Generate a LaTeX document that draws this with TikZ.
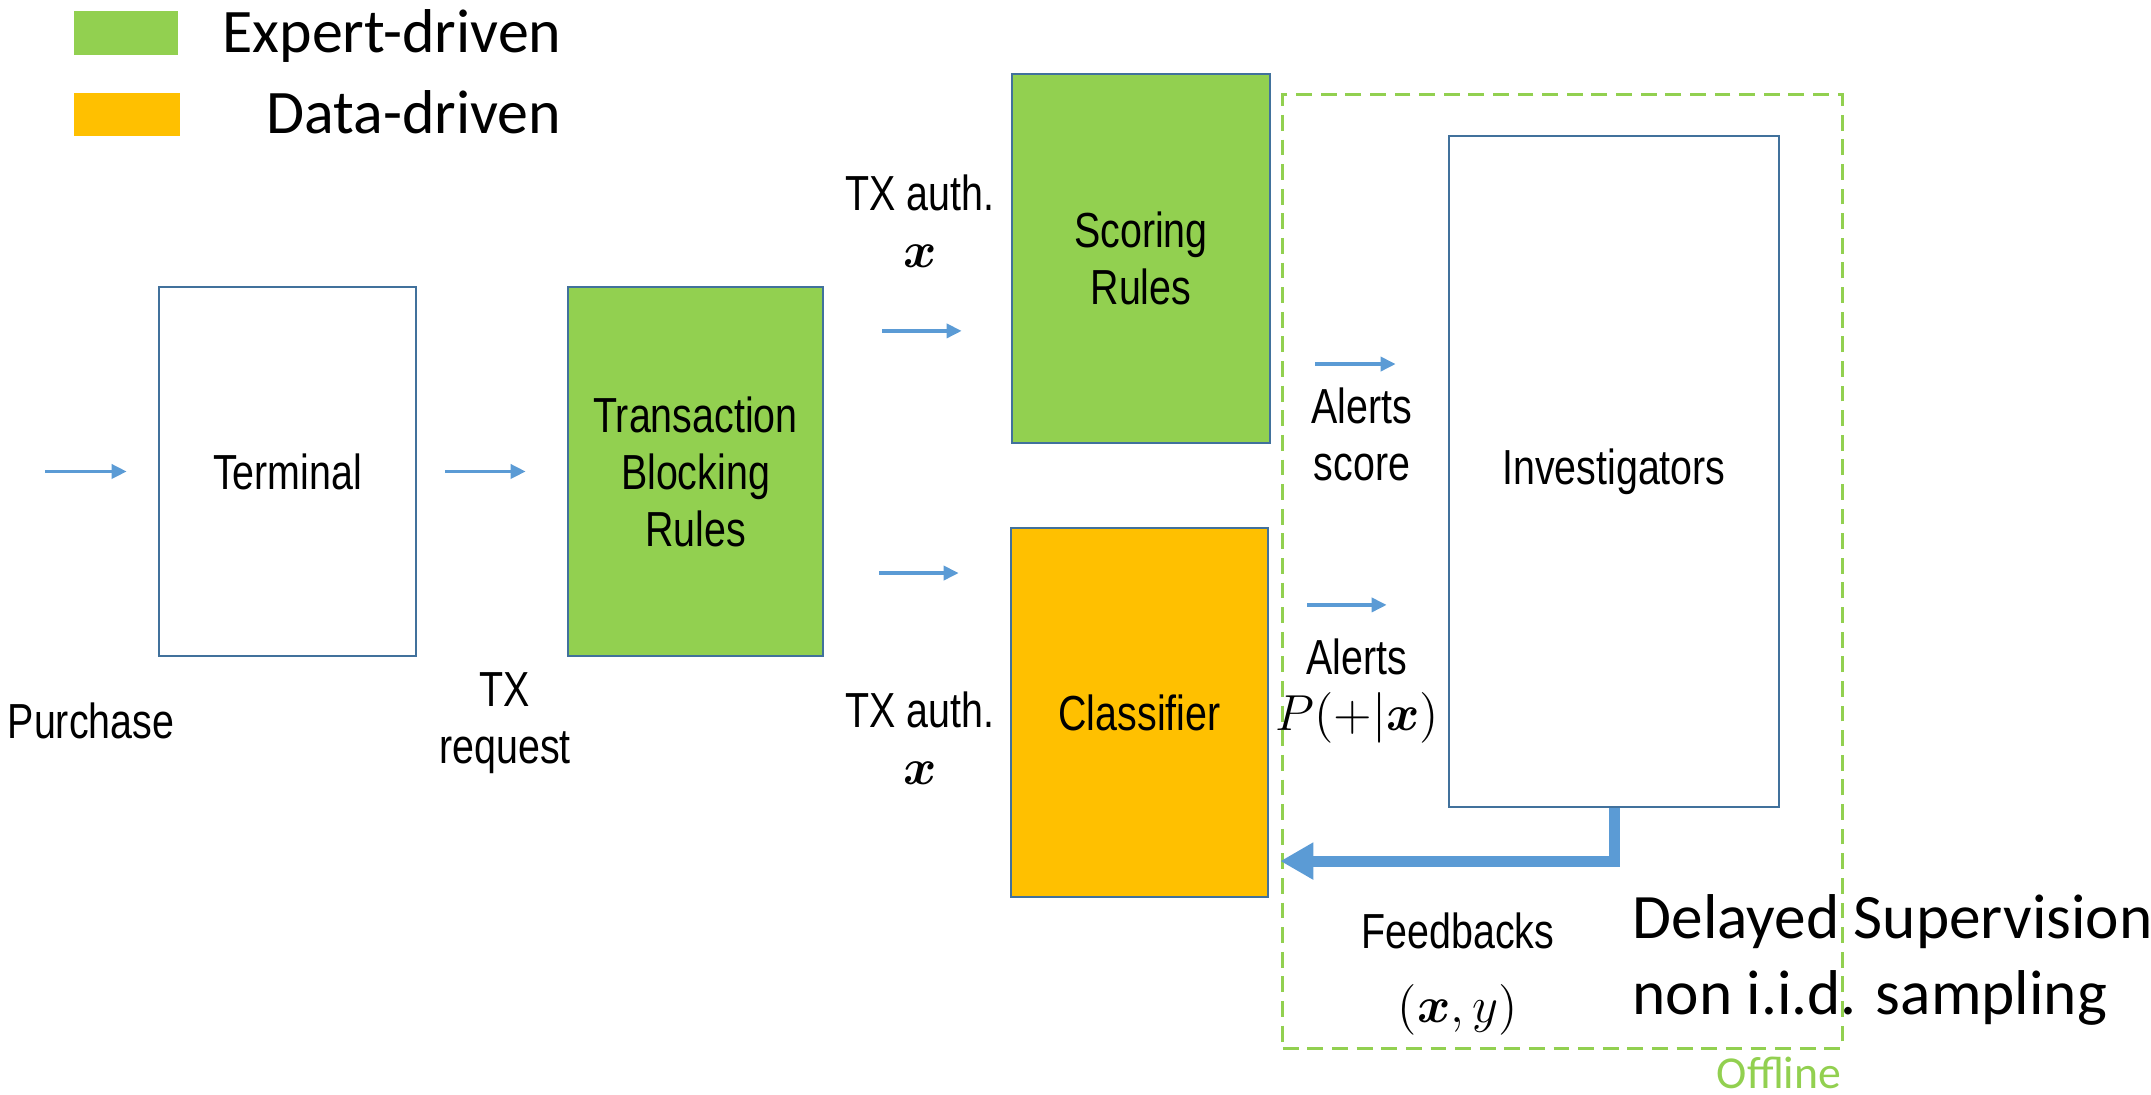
\documentclass[tikz,border=0pt]{standalone}
\usepackage{fontspec}
\usepackage{amsmath}
\setmainfont{Liberation Sans}[FakeStretch=0.8]
\newfontfamily\calib{Carlito}
\usetikzlibrary{arrows.meta}
\definecolor{lineblue}{HTML}{5B9BD5}
\definecolor{boxblue}{HTML}{41719C}
\definecolor{expgreen}{HTML}{92D050}
\definecolor{datorange}{HTML}{FFC000}
\tikzset{
  box/.style={draw=boxblue,line width=0.7pt,minimum width=2.57cm,minimum height=3.69cm,inner sep=0pt,align=center,font=\fontsize{14}{16.2}\selectfont},
  flow/.style={draw=lineblue,line width=1pt,-{Triangle[length=0.15cm,width=0.14cm]}},
  fback/.style={draw=lineblue,line width=0.11cm,-{Triangle[length=0.33cm,width=0.35cm]}},
  lbl/.style={align=center,font=\fontsize{14}{16.2}\selectfont},
  big/.style={inner sep=0pt,font=\calib\fontsize{17.6}{21.3}\selectfont}
}
\begin{document}
\begin{tikzpicture}[x=0.01cm,y=-0.01cm]
\useasboundingbox (0,0) rectangle (2151,1095);
% legend
\fill[expgreen] (74,11) rectangle (178,55);
\fill[datorange] (74,93) rectangle (180,136);
\node[big,anchor=base east] (lexp) at (562,53) {Expert-driven};
\node[big,anchor=base east] (ldat) at (562,134) {Data-driven};
% offline part
\node[draw=expgreen,line width=0.85pt,dash pattern=on 4.5pt off 2.5pt,minimum width=5.59cm,minimum height=9.53cm] (offl) at (1562.5,571.5) {};
\node[inner sep=0pt,text=expgreen,font=\calib\fontsize{13}{15}\selectfont] (offtxt) at (1779,1073) {Offline};
% blocks
\node[box] (term) at (287.5,471.5) {Terminal};
\node[box,fill=expgreen,minimum width=2.55cm] (tbr) at (695.5,471.5) {Transaction\\Blocking\\Rules};
\node[box,fill=expgreen,minimum width=2.58cm] (score) at (1141,258.5) {Scoring\\Rules};
\node[box,fill=datorange] (clf) at (1139.5,712.5) {Classifier};
\node[box,minimum width=3.3cm,minimum height=6.71cm] (invest) at (1614,471.5) {Investigators};
% arrows
\coordinate (buy) at (45,471.5);
\draw[flow,shorten >=0.31cm] (buy) -- (term.west);
\draw[flow,shorten <=0.28cm,shorten >=0.41cm] (term) -- (tbr);
\coordinate (tu) at ([yshift=1.405cm]tbr.east);
\draw[flow,shorten <=0.58cm,shorten >=0.49cm] (tu) -- (tu -| score.west);
\coordinate (tl) at ([yshift=-1.015cm]tbr.east);
\draw[flow,shorten <=0.55cm,shorten >=0.51cm] (tl) -- (tl -| clf.west);
\coordinate (au) at ([yshift=-1.055cm]score.east);
\draw[flow,shorten <=0.44cm,shorten >=0.52cm] (au) -- (au -| invest.west);
\coordinate (al) at ([yshift=1.075cm]clf.east);
\draw[flow,shorten <=0.38cm,shorten >=0.61cm] (al) -- (al -| invest.west);
\draw[fback,shorten >=0.11cm] (invest.south) |- ([yshift=-1.485cm]clf.east);
% labels
\node[lbl] (purch) at (91,721) {Purchase};
\node[lbl] (txreq) at (505,723) {TX\\request};
\node[lbl] (txa1) at (920,221) {TX auth.\\$\boldsymbol{x}$};
\node[lbl] (txa2) at (920,738) {TX auth.\\$\boldsymbol{x}$};
\node[lbl] (alsc) at (1362,434) {Alerts\\score};
\node[lbl] (alpr) at (1357,691) {Alerts\\$P(+|\boldsymbol{x})$};
\node[lbl] (fb) at (1458,974) {Feedbacks\\[5pt]$(\boldsymbol{x},y)$};
\node[big,anchor=west,align=left,font=\calib\fontsize{18}{21.5}\selectfont] (delay) at (1632,960) {Delayed Supervision\\non i.i.d. sampling};
\end{tikzpicture}
\end{document}
